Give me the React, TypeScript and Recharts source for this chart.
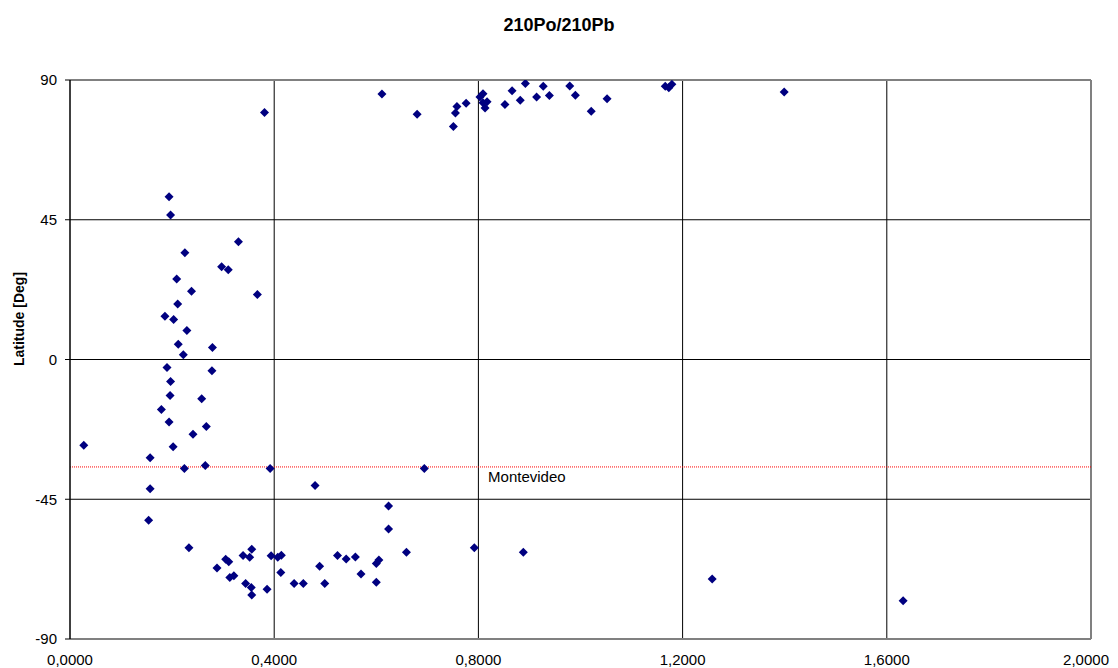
import React from "react";
import {
  ScatterChart,
  Scatter,
  XAxis,
  YAxis,
  CartesianGrid,
  ReferenceLine,
} from "recharts";

const ratio = [
  0.027, 0.157, 0.157, 0.154, 0.179, 0.186, 0.19, 0.194, 0.197, 0.194,
  0.196, 0.197, 0.202, 0.203, 0.209, 0.211, 0.212, 0.222, 0.224, 0.225,
  0.229, 0.238, 0.241, 0.233, 0.258, 0.265, 0.267, 0.278, 0.279, 0.288,
  0.297, 0.305, 0.311, 0.31, 0.313, 0.321, 0.33, 0.339, 0.344, 0.352,
  0.355, 0.356, 0.356, 0.367, 0.381, 0.386, 0.392, 0.394, 0.407, 0.414,
  0.413, 0.439, 0.457, 0.48, 0.489, 0.499, 0.524, 0.541, 0.559, 0.57,
  0.6, 0.605, 0.6, 0.611, 0.624, 0.624, 0.659, 0.68, 0.694, 0.751,
  0.755, 0.758, 0.776, 0.792, 0.803, 0.809, 0.817, 0.809, 0.813, 0.852,
  0.866, 0.882, 0.888, 0.892, 0.914, 0.927, 0.939, 0.979, 0.99, 1.021,
  1.052, 1.166, 1.173, 1.179, 1.399, 1.258, 1.632,
];

const latitude = [
  -27.6, -31.6, -41.6, -51.8, -16.1, 13.9, -2.6, 52.4, 46.5, -20.1,
  -11.6, -7.1, -28.1, 12.9, 25.9, 17.9, 4.9, 1.5, -35.1, 34.4,
  9.3, 22.0, -24.1, -60.6, -12.6, -34.1, -21.6, -3.6, 3.9, -67.1,
  29.9, -64.3, -65.1, 28.9, -70.2, -69.6, 37.9, -63.1, -72.1, -63.7,
  -73.4, -61.1, -75.8, 20.9, 79.5, -74.0, -35.1, -63.2, -63.7, -63.0,
  -68.6, -72.1, -72.1, -40.6, -66.6, -72.1, -63.1, -64.2, -63.6, -69.1,
  -65.7, -64.6, -71.7, 85.5, -47.2, -54.6, -62.1, 79.0, -35.1, 75.0,
  79.4, 81.5, 82.5, -60.6, 84.5, 85.6, 83.0, 82.7, 81.0, 82.1,
  86.5, 83.5, -62.1, 88.9, 84.5, 88.0, 85.0, 88.1, 85.1, 79.9,
  84.0, 88.0, 87.5, 88.6, 86.1, -70.7, -77.7,
];

const xTicks = [0, 0.4, 0.8, 1.2, 1.6, 2.0];
const yTicks = [-90, -45, 0, 45, 90];
const montevideoLat = -34.6;
const montevideoLabel = "Montevideo";
const titleText = "210Po/210Pb";
const yLabelText = "Latitude [Deg]";

const data = ratio.map((r, i) => ({ x: r, y: latitude[i] }));

const FONT = "'Liberation Sans', Arial, sans-serif";

const Diamond = (props: any) => {
  const { cx, cy } = props;
  if (cx == null || cy == null) return null;
  const h = 4.5;
  return (
    <polygon
      points={`${cx},${cy - h} ${cx + h},${cy} ${cx},${cy + h} ${cx - h},${cy}`}
      fill="#000080"
    />
  );
};

const XTick = (props: any) => {
  const { x, y, payload } = props;
  const isLast = payload.value === xTicks[xTicks.length - 1];
  return (
    <text
      x={isLast ? x + 18 : x}
      y={y}
      dy="0.71em"
      textAnchor={isLast ? "end" : "middle"}
      fontFamily={FONT}
      fontSize={15}
      fill="#000"
    >
      {Number(payload.value).toFixed(4).replace(".", ",")}
    </text>
  );
};

export default function App() {
  return (
    <div style={{ position: "relative", width: 1102, height: 660 }}>
      <style>{"html{overflow:hidden}"}</style>
      <div
        style={{
          position: "absolute",
          top: 6,
          left: 0,
          width: 1102,
          textAlign: "center",
          fontFamily: FONT,
          fontWeight: "bold",
          fontSize: 18,
          lineHeight: "22px",
          color: "#000",
        }}
      >
        {titleText}
      </div>
      <ScatterChart
        width={1102}
        height={660}
        margin={{ top: 72, right: 19, bottom: 0, left: 0 }}
      >
        <CartesianGrid
          stroke="#000"
          strokeWidth={1}
          horizontalValues={[-45, 0, 45]}
          verticalValues={[0.4, 0.8, 1.2, 1.6]}
        />
        <XAxis
          type="number"
          dataKey="x"
          domain={[0, 2]}
          ticks={xTicks}
          interval={0}
          allowDataOverflow
          height={29}
          tickLine={false}
          tickSize={0}
          tickMargin={15}
          axisLine={{ stroke: "#808080", strokeWidth: 2 }}
          tick={<XTick />}
        />
        <YAxis
          type="number"
          dataKey="y"
          domain={[-90, 90]}
          ticks={yTicks}
          interval={0}
          allowDataOverflow
          width={62}
          tickSize={5}
          tickMargin={8}
          axisLine={{ stroke: "#000", strokeWidth: 1.5 }}
          tickLine={{ stroke: "#000" }}
          tick={{ fill: "#000", fontSize: 15, fontFamily: FONT }}
          label={{
            content: () => (
              <text
                x={11}
                y={311}
                transform="rotate(-90, 11, 311)"
                textAnchor="middle"
                dominantBaseline="central"
                fontFamily={FONT}
                fontWeight="bold"
                fontSize={14}
                fill="#000"
              >
                {yLabelText}
              </text>
            ),
          }}
        />
        <ReferenceLine y={90} stroke="#808080" strokeWidth={2} />
        <ReferenceLine x={2} stroke="#808080" strokeWidth={2} />
        <ReferenceLine
          y={montevideoLat}
          stroke="#ff0000"
          strokeWidth={1}
          strokeDasharray="1 1"
          label={{
            content: (p: any) => {
              const vb = p.viewBox || {};
              const x = (vb.x ?? 62) + (vb.width ?? 1021) * 0.4095;
              const y = (vb.y ?? 459) + 15.5;
              return (
                <text
                  x={x}
                  y={y}
                  fontFamily={FONT}
                  fontSize={15}
                  fill="#000"
                >
                  {montevideoLabel}
                </text>
              );
            },
          }}
        />
        <Scatter data={data} shape={Diamond} isAnimationActive={false} />
      </ScatterChart>
    </div>
  );
}
